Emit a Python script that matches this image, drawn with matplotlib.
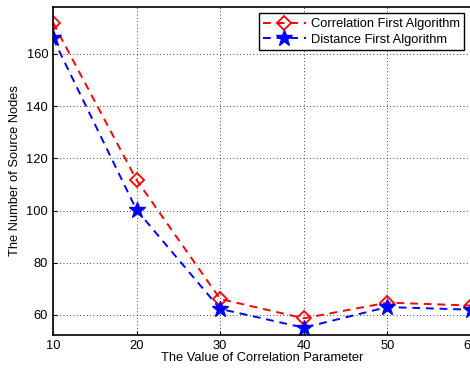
import matplotlib
matplotlib.use('Agg')
import matplotlib.pyplot as plt

plt.rcParams['font.family'] = ['Liberation Sans', 'DejaVu Sans']

corr_param = [10, 20, 30, 40, 50, 60]
corr_first = [172, 111.7, 66.1, 58.7, 64.7, 63.6]
dist_first = [166, 100.2, 62.3, 55.1, 63.0, 62.0]

fig = plt.figure(figsize=(4.7, 3.73), dpi=100)
ax = fig.add_axes([0.1128, 0.1019, 0.889, 0.8793])

ax.plot(corr_param, corr_first, 'r--', marker='D', markersize=7.5, markerfacecolor='none',
        markeredgewidth=1.3, linewidth=1.4, dashes=(4, 3), label='Correlation First Algorithm')
ax.plot(corr_param, dist_first, 'b--', marker='*', markersize=12, markerfacecolor='b',
        markeredgewidth=1.0, linewidth=1.4, dashes=(4, 3), label='Distance First Algorithm')

ax.set_xlim(10, 60)
ax.set_ylim(52.3, 178)
ax.set_xticks(corr_param)
ax.set_yticks([60, 80, 100, 120, 140, 160])
ax.grid(True, color='black', linestyle=(0, (1, 3)), linewidth=0.6)
ax.tick_params(direction='in', labelsize=9.3, length=3)
for s in ax.spines.values():
    s.set_linewidth(1.2)

ax.set_xlabel('The Value of Correlation Parameter', fontsize=9.3, labelpad=0)
ax.set_ylabel('The Number of Source Nodes', fontsize=9.3, labelpad=4)

leg = ax.legend(loc='upper right', fontsize=9.3, fancybox=False, framealpha=1,
                edgecolor='black', borderpad=0.35, handlelength=3.3, labelspacing=0.3,
                borderaxespad=0.5, handletextpad=0.4)
leg.get_frame().set_linewidth(1.0)

fig.savefig('out.png', dpi=100)
